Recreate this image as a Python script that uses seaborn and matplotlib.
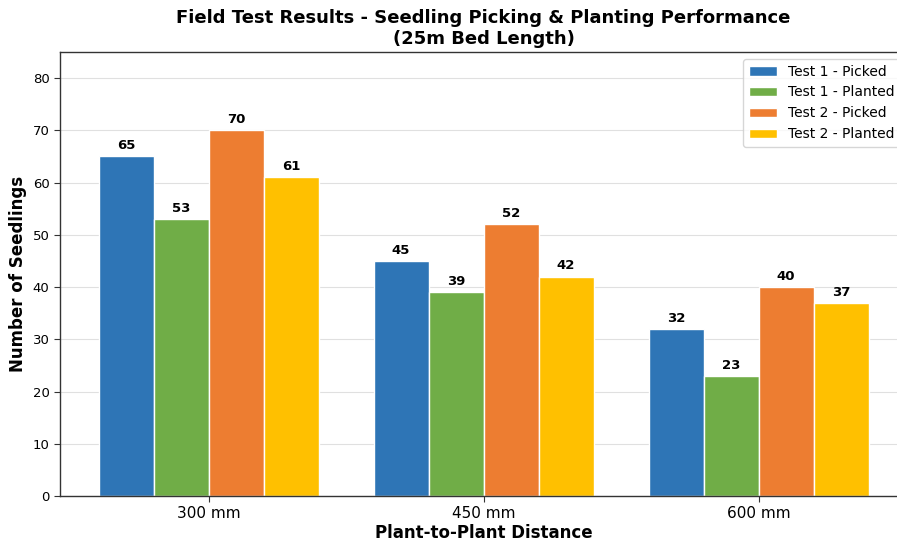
import pandas as pd
import numpy as np
import matplotlib
matplotlib.use("Agg")
import matplotlib.pyplot as plt
import seaborn as sns

# Data
distances = ["300 mm", "450 mm", "600 mm"]
series = ["Test 1 - Picked", "Test 1 - Planted", "Test 2 - Picked", "Test 2 - Planted"]
test1_picked = [65, 45, 32]
test1_planted = [53, 39, 23]
test2_picked = [70, 52, 40]
test2_planted = [61, 42, 37]
colors = ["#2E75B6", "#70AD47", "#ED7D31", "#FFC000"]

rows = []
for name, vals in zip(series, [test1_picked, test1_planted, test2_picked, test2_planted]):
    for d, v in zip(distances, vals):
        rows.append({"distance": d, "series": name, "count": v})
df = pd.DataFrame(rows)

sns.set_style("white")
plt.rcParams["font.family"] = ["DejaVu Sans"]
plt.rcParams["text.color"] = "black"
plt.rcParams["axes.labelcolor"] = "black"
plt.rcParams["xtick.color"] = "black"
plt.rcParams["ytick.color"] = "black"

fig = plt.figure(figsize=(8.97, 5.42), dpi=100)
# axes run slightly past the right edge, as in the cropped reference
ax = fig.add_axes([60 / 897, 46 / 542, 847 / 897, 444 / 542])

sns.barplot(
    data=df, x="distance", y="count", hue="series", order=distances,
    hue_order=series, palette=colors, edgecolor="white", linewidth=1,
    saturation=1, width=0.8, ax=ax,
)

for cont in ax.containers:
    ax.bar_label(cont, padding=3, fontsize=9.5, fontweight="bold", color="black")

ax.set_xlim(-0.54, 2.54)
ax.set_ylim(0, 85)
ax.set_yticks(range(0, 81, 10))
ax.yaxis.grid(True, color="#e0e0e0", linewidth=0.8)
ax.set_axisbelow(True)
for s in ax.spines.values():
    s.set_color("#333333")
    s.set_linewidth(1)
ax.tick_params(axis="x", labelsize=11, length=4, color="#333333", bottom=True)
ax.tick_params(axis="y", labelsize=9.5, length=4, color="#333333", left=True)

ax.set_xlabel("Plant-to-Plant Distance", fontsize=12, fontweight="bold", labelpad=2)
ax.set_ylabel("Number of Seedlings", fontsize=12, fontweight="bold")
ax.set_title("Field Test Results - Seedling Picking & Planting Performance\n(25m Bed Length)",
             fontsize=13, fontweight="bold", pad=6)

ax.legend(loc="upper right", fontsize=10, frameon=True)

fig.savefig("out.png", dpi=100)
